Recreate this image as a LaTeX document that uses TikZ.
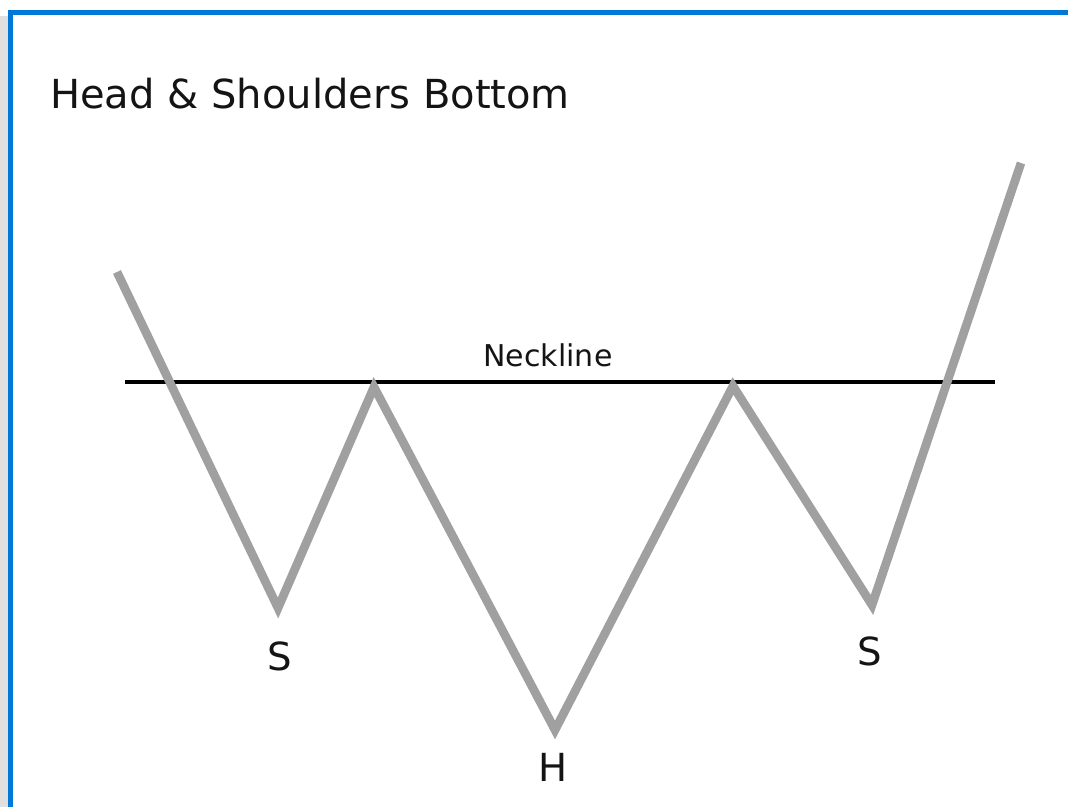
\documentclass[tikz,border=0pt]{standalone}
\usepackage{fontspec}
\setmainfont{DejaVu Sans}
\usetikzlibrary{positioning}
\definecolor{frameblue}{HTML}{0078D7}
\definecolor{pricegray}{HTML}{A0A0A0}

\begin{document}
\begin{tikzpicture}[
  x=0.75pt, y=-0.75pt,
  every node/.style={inner sep=0pt, text=black!92},
  title/.style={font=\fontsize{30}{36}\selectfont, anchor=base west},
  mark label/.style={font=\fontsize{29}{34}\selectfont, anchor=base},
  neck label/.style={font=\fontsize{22.5}{27}\selectfont, anchor=base},
  price/.style={line width=6.5pt, pricegray, line join=miter},
  neck/.style={line width=3pt, black}
]
\useasboundingbox (0,0) rectangle (1068,807);
\fill[white] (0,0) rectangle (1068,807);

% frame (only top and left edges visible)
\fill[black!12] (0,16) rectangle (8,807);
\draw[line width=4pt, frameblue] (10.5,807) -- (10.5,12.5) -- (1068,12.5);

% title
\node[title] (title) at (50,108) {Head \& Shoulders Bottom};

% turning points of the price line
\coordinate (start) at (117,272);
\coordinate (lsh)   at (278,608);
\coordinate (lpeak) at (374,387);
\coordinate (head)  at (555,730);
\coordinate (rpeak) at (733,386);
\coordinate (rsh)   at (872,605);
\coordinate (stop)  at (1021,163);

% neckline
\coordinate (nl) at (125,382);
\coordinate (nr) at (995,382);
\draw[neck] (nl) -- (nr);
\node[neck label] (necktext) at (548,366) {Neckline};

% price line
\draw[price] (start) -- (lsh) -- (lpeak) -- (head) -- (rpeak) -- (rsh) -- (stop);

% labels
\node[mark label] (ls) at (280,670) {S};
\node[mark label] (hd) at (553,781) {H};
\node[mark label] (rs) at (870,665) {S};

\end{tikzpicture}
\end{document}
